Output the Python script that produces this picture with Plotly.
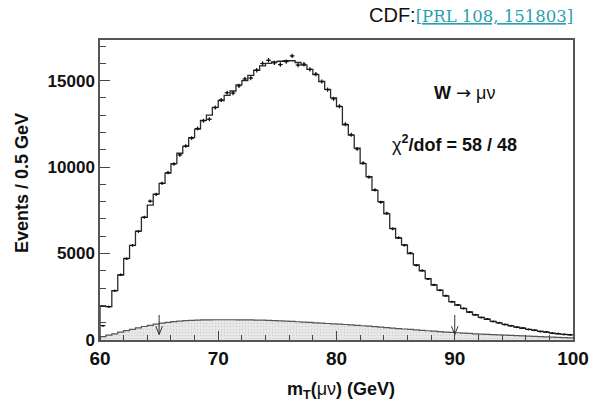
import numpy as np
import plotly.graph_objects as go

# ---- data (0.5 GeV bins from 60 to 100 GeV) ----
bin_low = 60.0
bin_width = 0.5

model = [1950, 1930, 2850, 3760, 4720, 5470, 6300, 7090, 7800, 8440,
         9060, 9650, 10200, 10800, 11200, 11700, 12200, 12700, 13000, 13450,
         13850, 14150, 14400, 14750, 15000, 15300, 15600, 15850, 16000, 16080,
         16120, 16150, 16150, 16050, 15900, 15650, 15350, 14950, 14500, 14000,
         13500, 12450, 11850, 11100, 10200, 9450, 8650, 8000, 7300, 6450,
         5900, 5500, 5000, 4350, 4000, 3550, 3180, 2880, 2550, 2220,
         2020, 1830, 1620, 1450, 1310, 1200, 1080, 990, 900, 820,
         750, 680, 620, 560, 500, 450, 400, 360, 330, 300]

data = [830, 1930, 2850, 3780, 4700, 5470, 6280, 7100, 8030, 8420,
        9060, 9680, 10180, 10700, 11220, 11680, 12230, 12680, 12770, 13440,
        13880, 14300, 14280, 14700, 15100, 15150, 15600, 15990, 16180, 16030,
        15930, 16100, 16430, 15900, 15950, 15650, 15380, 14950, 14480, 13950,
        13520, 12480, 11870, 11050, 10230, 9420, 8680, 7970, 7330, 6430,
        5920, 5480, 5030, 4320, 4020, 3530, 3190, 2870, 2560, 2210,
        2030, 1820, 1610, 1460, 1300, 1210, 1070, 1000, 890, 830,
        740, 690, 610, 570, 490, 460, 390, 370, 320, 310]

background = [190, 280, 360, 450, 540, 620, 700, 780, 850, 920,
              980, 1020, 1060, 1090, 1115, 1135, 1150, 1160, 1165, 1170,
              1172, 1172, 1170, 1168, 1165, 1160, 1155, 1145, 1135, 1120,
              1105, 1090, 1075, 1055, 1035, 1015, 995, 975, 955, 935,
              915, 895, 870, 850, 825, 800, 775, 750, 720, 690,
              660, 635, 610, 585, 560, 535, 510, 485, 460, 440,
              420, 400, 380, 360, 345, 330, 315, 300, 285, 270,
              255, 240, 228, 215, 200, 185, 170, 155, 140, 125]

arrow_x = [65, 90]
x_ticks = [60, 70, 80, 90, 100]
x_ticktext = ["60", "70", "80", "90", "100"]
y_ticks = [0, 5000, 10000, 15000]
y_ticktext = ["0", "5000", "10000", "15000"]

# ---- derived ----
n = len(model)
edges = bin_low + bin_width * np.arange(n + 1)
centers = edges[:-1] + bin_width / 2
step_x = np.concatenate([[edges[0]], edges])
step_model = np.concatenate([[0], model, [model[-1]]])
step_bg = np.concatenate([[0], background, [background[-1]]])
err = np.sqrt(np.array(data, dtype=float))

fig = go.Figure()

fig.add_trace(go.Scatter(
    x=step_x, y=step_bg, mode="lines", line_shape="hv",
    line=dict(color="#555555", width=1.2),
    fill="tozeroy", fillcolor="#e6e6e6",
    fillpattern=dict(shape=".", bgcolor="#e8e8e8", fgcolor="#b4b4b4",
                     size=3, solidity=0.2),
    hoverinfo="skip", showlegend=False))

fig.add_trace(go.Scatter(
    x=step_x, y=step_model, mode="lines", line_shape="hv",
    line=dict(color="#2b2b2b", width=1.3),
    showlegend=False))

fig.add_trace(go.Scatter(
    x=centers, y=data, mode="markers",
    marker=dict(color="#111111", size=2),
    error_y=dict(type="data", array=err, width=0, thickness=1.2, color="#111111"),
    error_x=dict(type="constant", value=0.2, width=0, thickness=1.2, color="#111111"),
    showlegend=False))

# arrows marking the fit range
shapes = []
for ax in arrow_x:
    shapes.append(dict(type="line", xref="x", yref="y", x0=ax, x1=ax, y0=1450, y1=320,
                       line=dict(color="#333333", width=1)))
    shapes.append(dict(type="line", xref="x", yref="y", x0=ax - 0.28, x1=ax, y0=800, y1=320,
                       line=dict(color="#333333", width=1)))
    shapes.append(dict(type="line", xref="x", yref="y", x0=ax + 0.28, x1=ax, y0=800, y1=320,
                       line=dict(color="#333333", width=1)))

sans = "Liberation Sans, Arial, sans-serif"
annotations = [
    dict(xref="x", yref="y", x=90.86, y=14300, xanchor="center", yanchor="middle",
         text="<b>W</b> <span style='font-family:DejaVu Sans'>→</span> μν", showarrow=False,
         font=dict(family=sans, size=18, color="#111111")),
    dict(xref="x", yref="y", x=90.0, y=11390, xanchor="center", yanchor="middle",
         text="χ<b><sup>2</sup>/dof = 58 / 48</b>",
         showarrow=False, font=dict(family=sans, size=18, color="#111111")),
    dict(xref="paper", yref="paper", x=-0.165, y=0.523, xanchor="center", yanchor="middle",
         text="<b>Events / 0.5 GeV</b>",
         textangle=-90, showarrow=False, font=dict(family=sans, size=18, color="#111111")),
    dict(xref="paper", yref="paper", x=0.51, y=-0.167, xanchor="center", yanchor="middle",
         text="<b>m<sub>T</sub>(</b>μν<b>) (GeV)</b>", showarrow=False,
         font=dict(family=sans, size=18, color="#111111")),
    dict(xref="paper", yref="paper", x=0.5645, y=1.083, xanchor="left", yanchor="middle",
         text="CDF:<a href='https://doi.org/10.1103/PhysRevLett.108.151803'>"
              "<span style='font-family:DejaVu Serif, serif;font-size:16.5px;color:#2a9fae;"
              "text-decoration:underline'>[PRL 108, 151803]</span></a>",
         showarrow=False, font=dict(family=sans, size=20, color="#111111")),
]

fig.update_layout(
    width=589, height=401,
    margin=dict(l=100, r=16, t=40, b=61, autoexpand=False),
    paper_bgcolor="white", plot_bgcolor="white",
    shapes=shapes, annotations=annotations,
    xaxis=dict(range=[60, 100], tickvals=x_ticks, ticktext=x_ticktext,
               ticks="inside", ticklen=9, automargin=False,
               tickcolor="#444444", tickwidth=1.2,
               minor=dict(dtick=2, ticks="inside", ticklen=5, tickcolor="#444444", tickwidth=1),
               showline=True, linecolor="#555555", linewidth=1.5, mirror=True,
               showgrid=False, zeroline=False,
               tickfont=dict(family=sans, size=19, color="#111111", weight="bold")),
    yaxis=dict(range=[0, 17350], tickvals=y_ticks, ticktext=y_ticktext,
               ticks="inside", ticklen=10, automargin=False,
               tickcolor="#444444", tickwidth=1.2,
               minor=dict(dtick=1000, ticks="inside", ticklen=6, tickcolor="#444444", tickwidth=1),
               showline=True, linecolor="#555555", linewidth=1.5, mirror=True,
               showgrid=False, zeroline=False,
               tickfont=dict(family=sans, size=17, color="#111111", weight="bold")),
)

fig.write_html("out.html")
